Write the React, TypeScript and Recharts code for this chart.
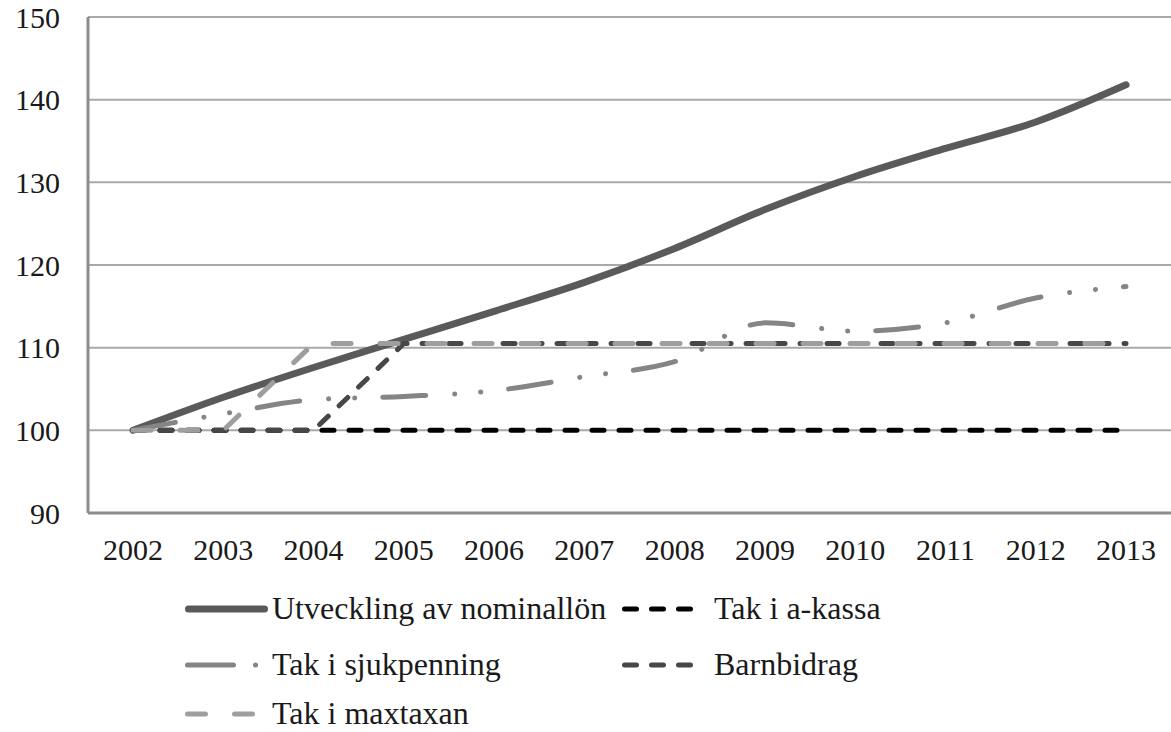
import { CartesianGrid, Line, LineChart, XAxis, YAxis } from 'recharts';

const years = ['2002', '2003', '2004', '2005', '2006', '2007', '2008', '2009', '2010', '2011', '2012', '2013'];
const nominal = [100, 104, 107.6, 111, 114.4, 117.9, 122, 126.7, 130.7, 134.1, 137.3, 141.8];
const aKassa = [100, 100, 100, 100, 100, 100, 100, 100, 100, 100, 100, 100];
const sjukpenning = [100, 102, 103.7, 104.1, 104.8, 106.5, 108.3, 113, 112, 113, 116, 117.4];
const barnbidrag = [100, 100, 100, 110.5, 110.5, 110.5, 110.5, 110.5, 110.5, 110.5, 110.5, 110.5];
const maxtaxan = [100, 100, 110.5, 110.5, 110.5, 110.5, 110.5, 110.5, 110.5, 110.5, 110.5, 110.5];
const yTicks = [90, 100, 110, 120, 130, 140, 150];

const data = years.map((year, i) => ({
  year,
  nominal: nominal[i],
  aKassa: aKassa[i],
  sjukpenning: sjukpenning[i],
  barnbidrag: barnbidrag[i],
  maxtaxan: maxtaxan[i],
}));

const FONT = '"Liberation Serif", "DejaVu Serif", serif';

const series = [
  { key: 'nominal', name: 'Utveckling av nominallön', color: '#5a5a5a', width: 7, dash: undefined, type: 'monotone' },
  { key: 'aKassa', name: 'Tak i a-kassa', color: '#000000', width: 5, dash: '12 15', type: 'linear' },
  { key: 'sjukpenning', name: 'Tak i sjukpenning', color: '#858585', width: 5, dash: '43 29 0.1 26 0.1 28', type: 'monotone' },
  { key: 'barnbidrag', name: 'Barnbidrag', color: '#474747', width: 5, dash: '12 15', type: 'linear' },
  { key: 'maxtaxan', name: 'Tak i maxtaxan', color: '#9e9e9e', width: 5, dash: '18 29', type: 'linear' },
] as const;

// legend slots: sample start x, row center y, sample length
const legendPos: Record<string, { x: number; y: number; w: number; dash?: string }> = {
  nominal: { x: 185, y: 609, w: 83 },
  aKassa: { x: 622, y: 609, w: 78, dash: '12 15' },
  sjukpenning: { x: 185, y: 665, w: 76, dash: '46 22 0.1 100' },
  barnbidrag: { x: 622, y: 665, w: 78, dash: '12 15' },
  maxtaxan: { x: 185, y: 714, w: 72, dash: '18 29' },
};

function LegendBlock() {
  return (
    <div style={{ position: 'absolute', left: 0, top: 0, width: 1171, height: 732, pointerEvents: 'none' }}>
      {series.map((s) => {
        const p = legendPos[s.key];
        const textX = s.key === 'aKassa' || s.key === 'barnbidrag' ? 714 : 272;
        return (
          <div key={s.key}>
            <svg style={{ position: 'absolute', left: p.x - 5, top: p.y - 6 }} width={p.w + 10} height={12}>
              <line
                x1={5 + s.width / 2}
                x2={5 + p.w - s.width / 2}
                y1={6}
                y2={6}
                stroke={s.color}
                strokeWidth={s.width}
                strokeLinecap="round"
                strokeDasharray={p.dash}
              />
            </svg>
            <span
              style={{
                position: 'absolute',
                left: textX,
                top: p.y - 14,
                fontFamily: FONT,
                fontSize: 32,
                lineHeight: '26px',
                color: '#1a1a1a',
                whiteSpace: 'nowrap',
              }}
            >
              {s.name}
            </span>
          </div>
        );
      })}
    </div>
  );
}

export default function App() {
  return (
    <div style={{ position: 'absolute', left: 0, top: 0, width: 1171, height: 732, background: '#fff' }}>
      <LineChart width={1171} height={732} data={data} margin={{ top: 17, right: 0, bottom: 159, left: 0 }}>
        <CartesianGrid vertical={false} stroke="#a8a8a8" strokeWidth={2} />
        <XAxis
          dataKey="year"
          height={60}
          padding={{ left: 45, right: 45 }}
          tickLine={false}
          tickSize={0}
          tickMargin={26}
          axisLine={{ stroke: '#8c8c8c', strokeWidth: 3 }}
          tick={{ fontSize: 30, fill: '#1a1a1a', fontFamily: FONT }}
        />
        <YAxis
          width={88}
          domain={[90, 150]}
          ticks={yTicks}
          tickLine={false}
          tickSize={0}
          tickMargin={28}
          axisLine={{ stroke: '#8c8c8c', strokeWidth: 3 }}
          tick={{ fontSize: 30, fill: '#1a1a1a', fontFamily: FONT }}
        />
        {series.map((s) => (
          <Line
            key={s.key}
            type={s.type}
            dataKey={s.key}
            name={s.name}
            stroke={s.color}
            strokeWidth={s.width}
            strokeDasharray={s.dash}
            strokeLinecap="round"
            dot={false}
            activeDot={false}
            isAnimationActive={false}
          />
        ))}
      </LineChart>
      <LegendBlock />
    </div>
  );
}
